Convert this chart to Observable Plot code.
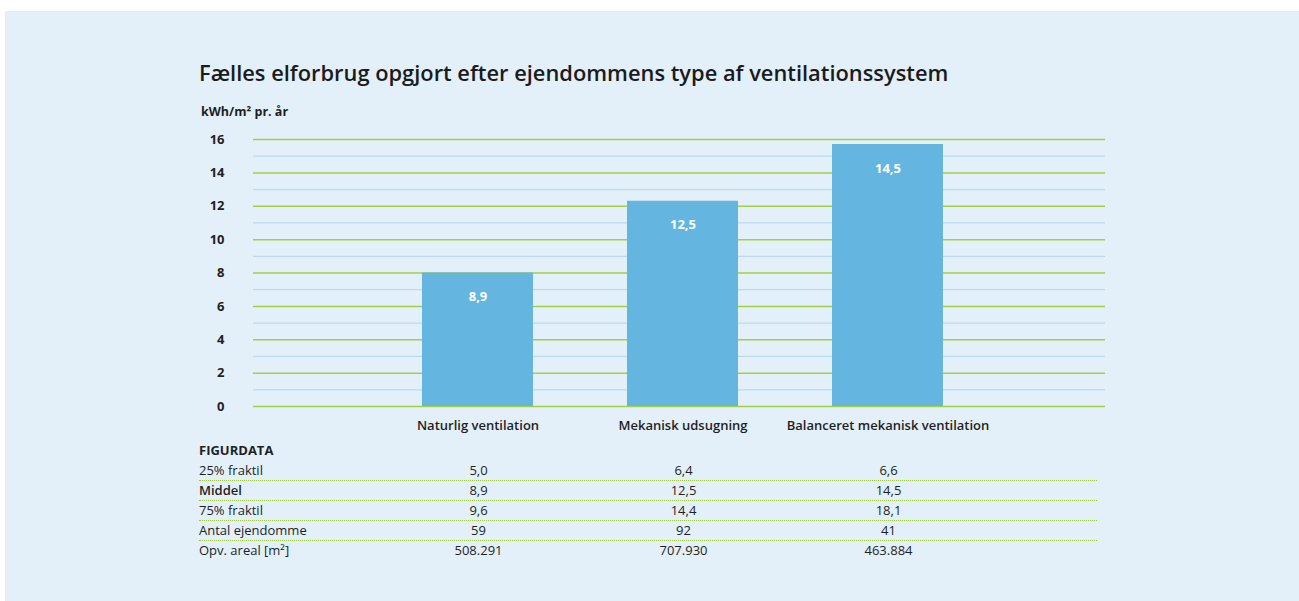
<!DOCTYPE html>
<html>
<head>
<meta charset="utf-8">
<script src="https://cdn.jsdelivr.net/npm/d3@7"></script>
<script src="https://cdn.jsdelivr.net/npm/@observablehq/plot@0.6"></script>
<style>
  html, body { margin: 0; padding: 0; background: #ffffff; width: 1299px; height: 601px; overflow: hidden; }
  body { font-family: "Open Sans", sans-serif; color: #1f1f1f; position: relative; }
  #panel { position: absolute; left: 5px; top: 11px; width: 1294px; height: 590px; background: #e3f0f9; }
  .abs { position: absolute; white-space: nowrap; line-height: 1; }
  #title { left: 199px; top: 62px; font-size: 21.85px; font-weight: 600; color: #1b1b1b; }
  #ylab { left: 201px; top: 106px; font-size: 12.5px; font-weight: 700; color: #1f1f1f; }
  #chart { position: absolute; left: 0; top: 100px; }
  #figurdata { left: 199px; top: 444px; font-size: 13px; font-weight: 700; }
  .row { position: absolute; left: 199px; width: 898px; height: 19px; line-height: 19px; font-size: 13px; }
  .row.line { border-bottom: 1px dotted #9ccb3a; }
  .cell { position: absolute; width: 120px; text-align: center; top: 0; }
</style>
</head>
<body>
<div id="panel"></div>
<div id="title" class="abs">Fælles elforbrug opgjort efter ejendommens type af ventilationssystem</div>
<div id="ylab" class="abs">kWh/m² pr. år</div>
<div id="chart"></div>
<div id="figurdata" class="abs">FIGURDATA</div>
<div id="table"></div>
<script>
// ---- data ----
const categories = ["Naturlig ventilation", "Mekanisk udsugning", "Balanceret mekanisk ventilation"];
const barHeights = [8.0, 12.3, 15.7];          // bar heights as drawn in the picture
const middel = [8.9, 12.5, 14.5];               // labels inside the bars
const fraktil25 = [5.0, 6.4, 6.6];
const fraktil75 = [9.6, 14.4, 18.1];
const antalEjendomme = [59, 92, 41];
const opvAreal = [508291, 707930, 463884];
const majorTicks = [0, 2, 4, 6, 8, 10, 12, 14, 16];
const minorTicks = [1, 3, 5, 7, 9, 11, 13, 15];
const rowLabels = ["25% fraktil", "Middel", "75% fraktil", "Antal ejendomme", "Opv. areal [m²]"];

const dec = v => v.toFixed(1).replace(".", ",");
const thousands = v => String(v).replace(/\B(?=(\d{3})+(?!\d))/g, ".");

const data = categories.map((c, i) => ({cat: c, h: barHeights[i], m: middel[i]}));

const plot = Plot.plot({
  width: 1299,
  height: 340,
  marginLeft: 253,
  marginRight: 194,
  marginTop: 39,
  marginBottom: 34,
  style: {background: "transparent", fontFamily: "Open Sans, sans-serif", color: "#1f1f1f", overflow: "visible"},
  x: {domain: categories, range: [375, 990], paddingInner: 0.46, paddingOuter: 0.23},
  y: {domain: [0, 16]},
  marks: [
    Plot.ruleY(minorTicks, {stroke: "#bdd9ef", strokeWidth: 1.3}),
    Plot.ruleY(majorTicks, {stroke: "#a3cf47", strokeWidth: 1.5}),
    Plot.barY(data, {x: "cat", y: "h", fill: "#64b6e1"}),
    Plot.text(data, {x: "cat", y: "h", dy: 24, text: d => dec(d.m), fill: "white", fontWeight: 700, fontSize: 13}),
    Plot.axisY(majorTicks, {tickSize: 0, tickPadding: 29, fontSize: 13, fontWeight: 700, label: null}),
    Plot.axisX({tickSize: 0, tickPadding: 14, fontSize: 13, fontWeight: 600, label: null})
  ]
});
document.getElementById("chart").appendChild(plot);

// ---- table below the chart, columns from the plot's x scale ----
const xs = plot.scale("x");
const centers = categories.map(c => xs.apply(c) + xs.bandwidth / 2);
const rows = [
  fraktil25.map(dec),
  middel.map(dec),
  fraktil75.map(dec),
  antalEjendomme.map(String),
  opvAreal.map(thousands)
];
const table = document.getElementById("table");
rows.forEach((vals, r) => {
  const row = document.createElement("div");
  row.className = "row" + (r < rows.length - 1 ? " line" : "");
  row.style.top = (461 + 20 * r) + "px";
  const lab = document.createElement("span");
  lab.textContent = rowLabels[r];
  if (r === 1) lab.style.fontWeight = "600";
  row.appendChild(lab);
  vals.forEach((v, i) => {
    const cell = document.createElement("span");
    cell.className = "cell";
    cell.style.left = (centers[i] - 199 - 60 + 1) + "px";
    cell.textContent = v;
    row.appendChild(cell);
  });
  table.appendChild(row);
});
</script>
</body>
</html>
